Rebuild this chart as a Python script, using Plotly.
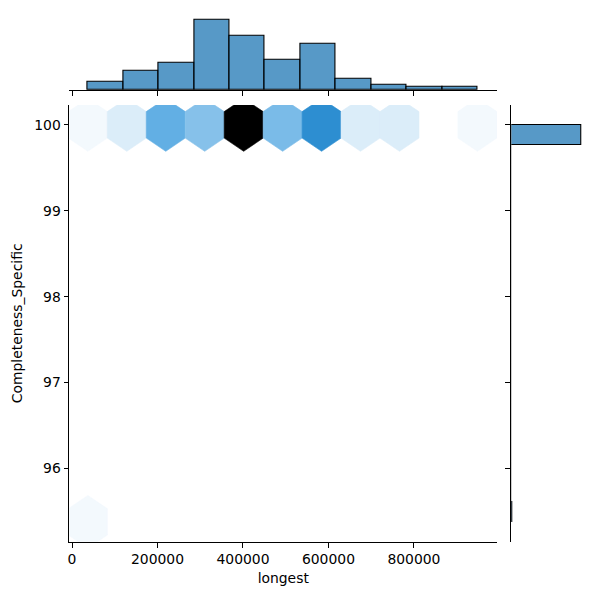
import colorsys
import numpy as np
import plotly.graph_objects as go

# ---------------- data ----------------
# data extent (longest, Completeness_Specific)
x_extent = [37000, 948500]
y_extent = [95.378, 100.0]
gridsize = 10

# hexbin cells: lattice indices and counts
hex_ix = [0, 1, 2, 3, 4, 5, 6, 7, 8, 9, 10, 0]
hex_iy = [5, 5, 5, 5, 5, 5, 5, 5, 5, 5, 5, 0]
hex_count = [1, 3, 13, 10, 36, 11, 18, 3, 3, 0, 1, 1]

# marginal histogram of "longest" (11 bins over x_extent)
x_hist_counts = [3, 7, 10, 26, 20, 11, 17, 4, 2, 1, 1]
# marginal histogram of "Completeness_Specific" (20 bins over y_extent)
y_hist_counts = [1] + [0] * 18 + [99]

x_ticks = [0, 200000, 400000, 600000, 800000]
y_ticks = [96, 97, 98, 99, 100]

# ---------------- styling helpers ----------------
FONT = "DejaVu Sans"
FS = 13.9
base_rgb = (31 / 255, 119 / 255, 180 / 255)
h, l, s = colorsys.rgb_to_hls(*base_rgb)
anchors = np.array([colorsys.hls_to_rgb(h, lv, s) for lv in np.linspace(1, 0, 12)])


def cmap(t):
    t = min(max(t, 0.0), 1.0)
    i = min(int(t * 256), 255)
    v = i / 255
    pos = np.linspace(0, 1, len(anchors))
    rgb = [np.interp(v, pos, anchors[:, k]) for k in range(3)]
    return "rgb(%d,%d,%d)" % tuple(int(round(c * 255)) for c in rgb)


nx = gridsize
ny = int(nx / np.sqrt(3))
sx = (x_extent[1] - x_extent[0]) / nx
sy = (y_extent[1] - y_extent[0]) / ny
hex_off = np.array([[.5, -.5], [.5, .5], [0., 1.], [-.5, .5], [-.5, -.5], [0., -1.], [.5, -.5]]) * [sx, sy / 3]
cmax = max(hex_count)

fig = go.Figure()

for ix, iy, c in zip(hex_ix, hex_iy, hex_count):
    if c == 0:
        continue
    cx = x_extent[0] + ix * sx
    cy = y_extent[0] + iy * sy
    col = cmap(c / cmax)
    fig.add_trace(go.Scatter(
        x=cx + hex_off[:, 0], y=cy + hex_off[:, 1], mode="lines",
        fill="toself", fillcolor=col, line=dict(color=col, width=0.6),
        xaxis="x", yaxis="y", hoverinfo="skip", showlegend=False))

# top marginal histogram
bw_x = (x_extent[1] - x_extent[0]) / len(x_hist_counts)
x_centers = [x_extent[0] + (i + 0.5) * bw_x for i in range(len(x_hist_counts))]
fig.add_trace(go.Bar(
    x=x_centers, y=x_hist_counts, width=bw_x,
    marker=dict(color="rgba(31,119,180,0.75)", line=dict(color="black", width=1.1)),
    xaxis="x2", yaxis="y2", showlegend=False))

# right marginal histogram
bw_y = (y_extent[1] - y_extent[0]) / len(y_hist_counts)
y_centers = [y_extent[0] + (i + 0.5) * bw_y for i in range(len(y_hist_counts))]
fig.add_trace(go.Bar(
    y=y_centers, x=y_hist_counts, width=bw_y, orientation="h",
    marker=dict(color="rgba(31,119,180,0.75)", line=dict(color="black", width=1.1)),
    xaxis="x3", yaxis="y3", showlegend=False))

xr = [-6000, 994500]
ypad = 0.05 * (y_extent[1] - y_extent[0])
yr = [y_extent[0] - ypad, y_extent[1] + ypad]

W = 600.0
main_xd = [67.7 / W, 496.7 / W]
main_yd = [1 - 541.7 / W, 1 - 105 / W]
top_yd = [1 - 90 / W, 1 - 15.8 / W]
right_xd = [511 / W, 585.2 / W]

axis_common = dict(showline=True, linecolor="black", linewidth=1.1, ticks="outside",
                   ticklen=4.9, tickwidth=1.1, tickcolor="black", showgrid=False,
                   zeroline=False, tickfont=dict(family=FONT, size=FS, color="black"))
axis_nolabel = {k: v for k, v in axis_common.items() if k != "tickfont"}

fig.update_layout(
    width=600, height=600,
    margin=dict(l=0, r=0, t=0, b=0),
    paper_bgcolor="white", plot_bgcolor="rgba(0,0,0,0)",
    font=dict(family=FONT, size=FS, color="black"),
    bargap=0,
    xaxis=dict(domain=main_xd, anchor="y", range=xr, tickvals=x_ticks,
               ticktext=[str(v) for v in x_ticks],
               title=dict(text="longest", standoff=6, font=dict(family=FONT, size=FS)),
               **axis_common),
    yaxis=dict(domain=main_yd, anchor="x", range=yr, tickvals=y_ticks,
               ticktext=[str(v) for v in y_ticks],
               title=dict(text="Completeness_Specific", standoff=8, font=dict(family=FONT, size=FS)),
               **axis_common),
    xaxis2=dict(domain=main_xd, anchor="y2", range=xr, matches="x", tickvals=x_ticks,
                showticklabels=False, **axis_nolabel),
    yaxis2=dict(domain=top_yd, anchor="x2", range=[0, max(x_hist_counts) * 1.05], visible=False),
    xaxis3=dict(domain=right_xd, anchor="y3", range=[0, max(y_hist_counts) * 1.05], visible=False),
    yaxis3=dict(domain=main_yd, anchor="x3", range=yr, matches="y", tickvals=y_ticks,
                showticklabels=False, **axis_nolabel),
)

fig.write_html("out.html")
